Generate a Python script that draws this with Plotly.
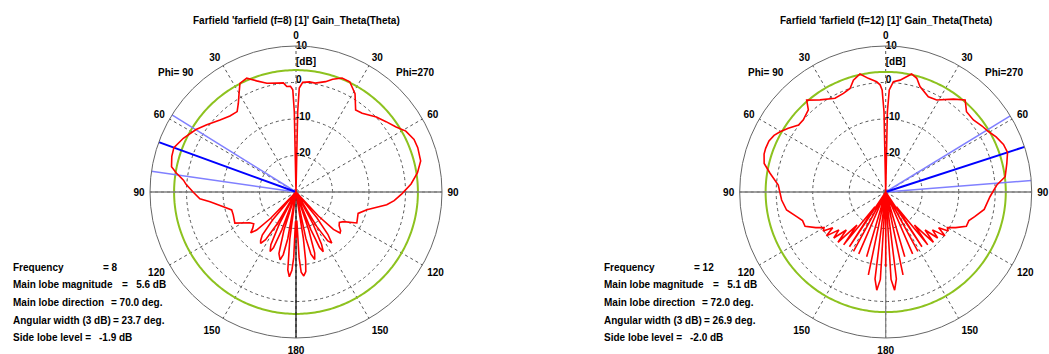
import numpy as np
import plotly.graph_objects as go

# ---------------------------------------------------------------
# Farfield cuts: theta (deg) and Gain_Theta (dB) for Phi=270 / Phi=90
# ---------------------------------------------------------------
R_MIN, R_MAX = -30, 10

# f = 8
f8_theta_p270 = [0, 1.2, 1.8, 3.5, 7, 10, 15, 18, 22, 26, 31, 36, 40, 47, 52, 57, 61, 66, 70, 76,
                 81, 86, 91, 95, 98, 104, 109, 117, 122, 125, 128, 131, 133, 135, 137, 139, 141,
                 143, 145, 147, 149, 150.5, 152, 154, 155.5, 157, 158.5, 160, 161.5, 163, 164.5,
                 166.5, 168, 169.5, 171, 172, 173, 174.7, 176.3, 177.3, 178.3, 179.3, 180]
f8_gain_p270 = [-30, -8, -1.5, 0.1, 0.4, 0.3, 1.3, 2.5, 3.7, 3.6, 1.4, -2.2, -1.8, 0.1, 1.3, 2.7,
                4.4, 5.4, 5.5, 5.2, 3.7, 1.6, -1.0, -3.0, -4.9, -10, -12, -11.3, -14.7, -15.5, -15,
                -13.8, -13.5, -15.5, -21, -30, -21, -15.5, -12.9, -14, -19, -30, -20, -14, -12,
                -13.5, -19, -30, -19, -12.5, -10.8, -12.5, -17, -30, -17, -11, -8, -6.9, -8, -12,
                -22, -22, -17.4]
f8_theta_p90 = [0, 1.2, 1.8, 3, 5, 6.6, 10, 15, 19.5, 23.4, 27.3, 30, 33, 36.2, 41, 46.5, 53, 58,
                64.5, 70, 74, 78.5, 81, 84, 86, 90, 94, 96.4, 101.4, 105.6, 110, 117, 123.7, 127,
                130, 132, 134, 136, 138, 140, 142, 144, 145.5, 147.5, 149.5, 151, 152.5, 154.5,
                156.5, 158, 159.5, 161, 162.5, 164.5, 166.8, 168.5, 170, 171.5, 172.5, 174,
                175.5, 177, 178, 179, 180]
f8_gain_p90 = [-30, -8, -2, -1.0, -1.0, 0.1, 0.3, 0.85, 2.3, 4.0, 3.5, 1.2, -1.0, -2.7, -2.4, -1.3,
               0.6, 2.3, 4.2, 5.6, 5.4, 4.8, 3.2, 1.0, 0.2, -1.8, -3.6, -6.3, -9.7, -11.7, -11.7,
               -11.2, -14.8, -15.5, -14.5, -13.3, -15, -20, -30, -20, -15, -13.5, -12.9, -14.5, -20,
               -30, -20, -14, -12.2, -13.5, -19, -30, -19, -12.5, -10.9, -12.5, -17, -30, -17,
               -8.5, -6.7, -8.5, -12, -22, -17.4]

# f = 12
f12_theta_p270 = [0, 1.2, 2, 4, 7.3, 12.4, 15.3, 18, 24.1, 29, 36.1, 40.8, 45.2, 50.6, 55.6, 59.3,
                  63.5, 68, 72, 76.7, 82.7, 86.4, 92.6, 100, 105.5, 109, 113, 117, 120, 122, 124,
                  126.5, 129, 131.5, 134, 136.5, 139, 141.5, 144, 146.5, 149, 151.5, 154, 156.5,
                  159, 160.5, 163.6, 166, 168.2, 171.3, 173, 174.8, 176.5, 178, 180]
f12_gain_p270 = [-30, -8, -2, 0.3, 0.9, 3.1, 2.3, 0.4, -1.4, -1.2, 1.5, 3.3, 1.2, 1.1, 2.0, 2.6,
                 3.8, 4.8, 5.1, 4.1, 3.0, 0.5, -1.4, -2.6, -4.7, -5.9, -6.0, -8.5, -10.5, -9.8,
                 -12.5, -9.8, -13.5, -11, -15, -11, -18, -11.5, -25, -12, -30, -11.5, -30, -11.5,
                 -30, -30, -11.5, -30, -6.8, -30, -6, -3.0, -6, -30, -9.5]
f12_theta_p90 = [0, 1.2, 2, 3, 4.7, 8.7, 12.3, 16.1, 19, 23.2, 28.4, 35.5, 40.7, 43.3, 48.8, 52.5,
                 56.8, 60.3, 63.1, 66.4, 70, 72.7, 76.8, 80.8, 86.3, 94.4, 100.3, 105.5, 109, 113,
                 117, 120, 122, 124, 126.5, 129, 131.5, 134, 136.5, 139, 141.5, 144, 146.5, 149,
                 151.5, 154, 156.5, 159, 160.5, 163.6, 166, 168.2, 171.3, 173, 174.8, 176.5, 178,
                 180]
f12_gain_p90 = [-30, -8, -2, -0.6, 0.3, 1.5, 3.1, 1.9, 0.0, -0.6, -0.8, 1.0, 3.2, 0.9, 0.0, 0.1,
                1.9, 3.3, 4.3, 4.9, 5.0, 4.9, 4.2, 2.1, -0.5, -1.4, -2.4, -4.7, -5.9, -6.0, -8.5,
                -10.5, -9.8, -12.5, -9.8, -13.5, -11, -15, -11, -18, -11.5, -25, -12, -30, -11.5,
                -30, -11.5, -30, -30, -11.5, -30, -6.8, -30, -6, -3.0, -6, -30, -9.5]

# summary values per frequency
frequencies = [8, 12]
main_lobe_mag = [5.6, 5.1]        # dB
main_lobe_dir = [70.0, 72.0]      # deg
main_lobe_side = ["p90", "p270"]  # cut holding the main lobe
angular_width = [23.7, 26.9]      # deg (3 dB)
side_lobe_level = [-1.9, -2.0]    # dB
green_level = [3.4, 2.9]          # dB, reference circle

angle_ticks = list(range(0, 360, 30))
angle_text = ["0", "30", "60", "90", "120", "150", "180", "150", "120", "90", "60", "30"]
ring_vals = [-20, -10, 0]
ring_text = ["10", "0", "-10", "-20"]
ring_text_r = [9.9, 0.5, -9.5, -19.5]

FONT = "Liberation Sans"
RED, GREEN = "#FF0000", "#8DC21F"
BLUE, LBLUE = "#0000FF", "#8080FF"

W, H = 1049, 354
centers_px = [296, 885.7]
cy_px, rad_px = 192, 146

fig = go.Figure()


def closed_curve(t270, g270, t90, g90):
    ang = list(t270) + [360 - t for t in reversed(t90)]
    r = list(g270) + list(reversed(g90))
    return ang, np.maximum(np.array(r, dtype=float), R_MIN)


curves = [(f8_theta_p270, f8_gain_p270, f8_theta_p90, f8_gain_p90),
          (f12_theta_p270, f12_gain_p270, f12_theta_p90, f12_gain_p90)]
vert_color = ["#000000", "#808080"]
bold10 = dict(family=FONT, size=10, color="black", weight="bold")

for i in range(2):
    sp = "polar" if i == 0 else "polar2"
    full = np.linspace(0, 360, 361)
    # green reference circle
    fig.add_trace(go.Scatterpolar(r=[green_level[i]] * len(full), theta=full, mode="lines",
                                  line=dict(color=GREEN, width=2), subplot=sp, hoverinfo="skip"))
    # horizontal 90-90 axis
    fig.add_trace(go.Scatterpolar(r=[R_MAX, R_MIN, R_MAX], theta=[270, 0, 90], mode="lines",
                                  line=dict(color="#808080", width=1.5), subplot=sp, hoverinfo="skip"))
    # lower vertical axis (180)
    fig.add_trace(go.Scatterpolar(r=[R_MIN, R_MAX], theta=[180, 180], mode="lines",
                                  line=dict(color=vert_color[i], width=1.2), subplot=sp, hoverinfo="skip"))
    # main lobe direction and 3 dB beam edges
    d = main_lobe_dir[i]
    hw = angular_width[i] / 2
    dirs = [d - hw, d + hw, d]
    if main_lobe_side[i] == "p90":
        dirs = [360 - a for a in dirs]
    for k, a in enumerate(dirs):
        fig.add_trace(go.Scatterpolar(r=[R_MIN, R_MAX], theta=[a, a], mode="lines",
                                      line=dict(color=BLUE if k == 2 else LBLUE, width=2 if k == 2 else 1.5),
                                      subplot=sp, hoverinfo="skip"))
    # pattern
    ang, rr = closed_curve(*curves[i])
    fig.add_trace(go.Scatterpolar(r=rr, theta=ang, mode="lines", line=dict(color=RED, width=1.6),
                                  subplot=sp, hoverinfo="skip"))
    # radial scale labels
    fig.add_trace(go.Scatterpolar(r=ring_text_r, theta=[0] * 4, mode="text", text=ring_text,
                                  textposition="middle right", textfont=bold10, cliponaxis=False,
                                  subplot=sp, hoverinfo="skip"))
    fig.add_trace(go.Scatterpolar(r=[5.6], theta=[0], mode="text", text=["[dB]"],
                                  textposition="middle right", textfont=bold10, cliponaxis=False,
                                  subplot=sp, hoverinfo="skip"))

    cx = centers_px[i]
    dom_x = [(cx - rad_px) / W, (cx + rad_px) / W]
    dom_y = [1 - (cy_px + rad_px) / H, 1 - (cy_px - rad_px) / H]
    polar = dict(
        domain=dict(x=dom_x, y=dom_y),
        bgcolor="white",
        angularaxis=dict(rotation=90, direction="clockwise", tickmode="array",
                         tickvals=angle_ticks, ticktext=angle_text, showgrid=True,
                         gridcolor="#555555", griddash="3px,3px", gridwidth=1,
                         showline=True, linecolor="#666666", linewidth=1,
                         ticks="outside", ticklen=3, tickcolor="rgba(0,0,0,0)",
                         tickfont=bold10),
        radialaxis=dict(range=[R_MIN, R_MAX], tickvals=ring_vals, showticklabels=False,
                        ticks="", showline=False, showgrid=True, gridcolor="#555555",
                        griddash="3px,3px", gridwidth=1),
    )
    fig.update_layout(**{sp: polar})

annotations = []
titles = ["Farfield 'farfield (f=8) [1]' Gain_Theta(Theta)",
          "Farfield 'farfield (f=12) [1]' Gain_Theta(Theta)"]
for i in range(2):
    cx = centers_px[i]
    ox = 0 if i == 0 else 590.5
    annotations.append(dict(x=cx / W, y=1 - 20 / H, text=titles[i], showarrow=False,
                            xref="paper", yref="paper", xanchor="center", yanchor="middle", font=bold10))
    annotations.append(dict(x=(cx - 120) / W, y=1 - 72 / H, text="Phi= 90", showarrow=False,
                            xref="paper", yref="paper", xanchor="center", yanchor="middle", font=bold10))
    annotations.append(dict(x=(cx + 119) / W, y=1 - 72 / H, text="Phi=270", showarrow=False,
                            xref="paper", yref="paper", xanchor="center", yanchor="middle", font=bold10))
    rows = [("Frequency", "= %d" % frequencies[i], 101),
            ("Main lobe magnitude", "=\u00a0\u00a0 %.1f dB" % main_lobe_mag[i], 120),
            ("Main lobe direction", "= %.1f deg." % main_lobe_dir[i], 109),
            ("Angular width (3 dB)", "= %.1f deg." % angular_width[i], 111),
            ("Side lobe level =", "%.1f dB" % side_lobe_level[i], 97)]
    for k, (lab, val, vx) in enumerate(rows):
        yy = 1 - (267 + k * 17.7) / H
        annotations.append(dict(x=(11 + ox) / W, y=yy, text=lab, showarrow=False, xref="paper",
                                yref="paper", xanchor="left", yanchor="middle", font=bold10))
        annotations.append(dict(x=(vx + ox) / W, y=yy, text=val, showarrow=False, xref="paper",
                                yref="paper", xanchor="left", yanchor="middle", font=bold10))

fig.update_layout(width=W, height=H, margin=dict(l=0, r=0, t=0, b=0), paper_bgcolor="white",
                  showlegend=False, annotations=annotations)

fig.write_html("out.html")
